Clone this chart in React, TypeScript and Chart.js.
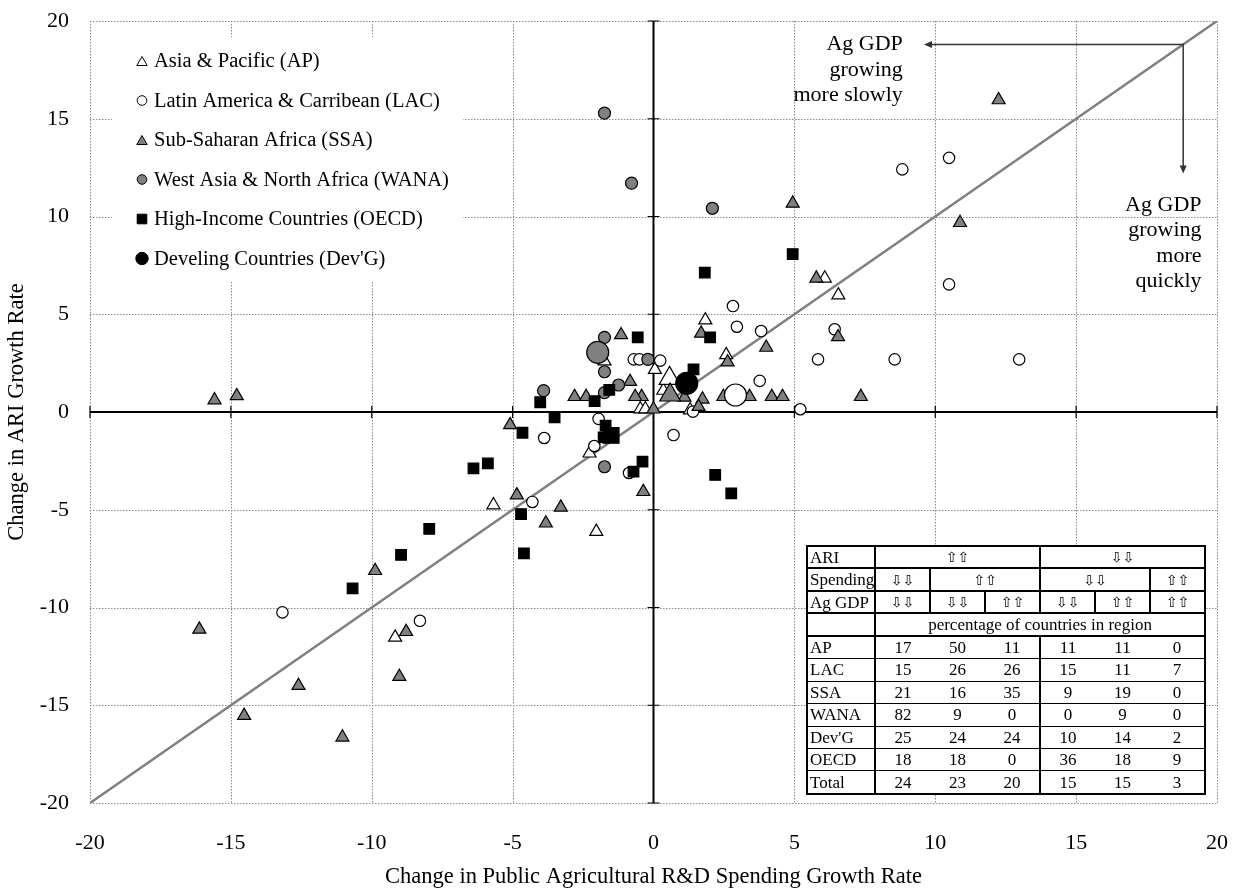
import React, { useEffect, useRef } from 'react';
import { Chart, registerables } from 'chart.js';

Chart.register(...registerables);

const FONT = "'Liberation Serif', 'Times New Roman', serif";
const GRAY = '#808080';

type Pt = [number, number];

// ---- data (x = change in R&D spending growth rate, y = change in ARI growth rate)
const apPoints: Pt[] = [
  [1.84, 4.7], [6.08, 6.84], [6.56, 5.98], [2.58, 2.92], [0.05, 2.17], [0.35, 1.1],
  [-0.47, 0.15], [-0.29, 0.15], [-1.74, 2.6], [1.3, 0.1], [-2.27, -2.11], [-5.68, -4.76],
  [-2.03, -6.12], [-9.17, -11.53],
];
const apAverage: Pt[] = [[0.57, 1.72]];

const lacPoints: Pt[] = [
  [8.83, 12.41], [10.49, 13.0], [10.49, 6.53], [2.82, 5.42], [2.96, 4.36], [3.82, 4.14],
  [6.43, 4.23], [5.84, 2.69], [8.56, 2.69], [12.98, 2.69], [3.77, 1.59], [5.21, 0.14],
  [1.4, 0.02], [0.24, 2.63], [-0.7, 2.69], [-0.5, 2.69], [-1.95, -0.35], [-3.88, -1.33],
  [0.71, -1.18], [-2.1, -1.74], [-0.87, -3.12], [-4.3, -4.6], [-13.17, -10.25], [-8.29, -10.68],
];
const lacAverage: Pt[] = [[2.91, 0.87]];

const ssaPoints: Pt[] = [
  [12.25, 15.96], [10.88, 9.68], [4.94, 10.67], [5.78, 6.84], [6.55, 3.84], [1.69, 4.02],
  [2.63, 2.55], [4.0, 3.3], [7.36, 0.78], [2.48, 0.78], [3.41, 0.78], [4.2, 0.78],
  [4.58, 0.78], [1.74, 0.65], [1.6, 0.27], [1.1, 0.75], [-0.42, 0.78], [0.0, 0.14],
  [-1.15, 3.94], [-2.8, 0.78], [-2.39, 0.78], [-0.83, 1.55], [-0.65, 0.78], [-5.09, -0.66],
  [-0.36, -4.08], [-4.85, -4.25], [-3.29, -4.88], [-3.82, -5.69], [-9.88, -8.12],
  [-16.12, -11.12], [-8.78, -11.24], [-9.02, -13.54], [-12.6, -14.0], [-14.53, -15.53],
  [-11.04, -16.64], [-15.58, 0.61], [-14.79, 0.82],
];
const ssaAverage: Pt[] = [[0.59, 0.87]];

const wanaPoints: Pt[] = [
  [-1.74, 15.29], [-0.78, 11.71], [2.09, 10.42], [-1.74, 3.82], [-1.74, 2.06], [-1.24, 1.38],
  [-1.74, 0.99], [-3.9, 1.09], [-0.2, 2.69], [-1.74, -2.8],
];
const wanaAverage: Pt[] = [[-1.98, 3.05]];

const oecdPoints: Pt[] = [
  [1.82, 7.13], [4.94, 8.08], [2.01, 3.82], [-0.56, 3.82], [1.42, 2.18], [-1.57, 1.13],
  [-2.09, 0.56], [-4.02, 0.5], [-3.51, -0.27], [-4.65, -1.06], [-1.7, -0.7], [-1.77, -1.3],
  [-0.71, -3.05], [-0.39, -2.54], [2.19, -3.22], [2.76, -4.16], [-6.39, -2.88], [-5.88, -2.63],
  [-4.7, -5.22], [-7.96, -5.98], [-8.96, -7.31], [-4.6, -7.23], [-10.68, -9.02],
];
const oecdAverage: Pt[] = [[-1.5, -1.2]];

const devgAverage: Pt[] = [[1.18, 1.47]];

const diagonal: Pt[] = [[-20, -20], [20, 20]];

const axisMin = -20;
const axisMax = 20;
const axisStep = 5;

// ---- annotation (in data units)
const arrowCorner = 18.8;
const arrowLeftEnd = 9.6;
const arrowDownEnd = 12.2;
const slowText = ['Ag GDP', 'growing', 'more slowly'];
const slowTextAnchor: Pt = [8.85, 18.8];
const fastText = ['Ag GDP', 'growing', 'more', 'quickly'];
const fastTextAnchor: Pt = [19.45, 10.6];

// ---- legend
const legendLabels = [
  'Asia & Pacific (AP)',
  'Latin America & Carribean (LAC)',
  'Sub-Saharan Africa (SSA)',
  'West Asia & North Africa (WANA)',
  'High-Income Countries (OECD)',
  "Develing Countries (Dev'G)",
];
const legendStyles = ['triangle', 'circle', 'triangle', 'circle', 'rect', 'circle'];
const legendFills = ['#ffffff', '#ffffff', GRAY, GRAY, '#000000', '#000000'];
const legendSizes = [6, 4.8, 6, 4.8, 4.8, 6.2];

// ---- table
const tableRegions = ['AP', 'LAC', 'SSA', 'WANA', "Dev'G", 'OECD', 'Total'];
const tableValues = [
  [17, 50, 11, 11, 11, 0],
  [15, 26, 26, 15, 11, 7],
  [21, 16, 35, 9, 19, 0],
  [82, 9, 0, 0, 9, 0],
  [25, 24, 24, 10, 14, 2],
  [18, 18, 0, 36, 18, 9],
  [24, 23, 20, 15, 15, 3],
];
const UP = '\u21E7\u21E7';
const DOWN = '\u21E9\u21E9';
const ariRow = [UP, DOWN];
const spendingRow = [DOWN, UP, DOWN, UP];
const spendingSpans = [1, 2, 2, 1];
const agGdpRow = [DOWN, DOWN, UP, DOWN, UP, UP];

const toXY = (pts: Pt[]) => pts.map(([x, y]) => ({ x, y }));

function drawMarker(ctx: CanvasRenderingContext2D, style: string, x: number, y: number, r: number, fill: string) {
  ctx.save();
  ctx.beginPath();
  if (style === 'triangle') {
    const cy = y + r / 4;
    ctx.moveTo(x, cy - r);
    ctx.lineTo(x + r * 0.866, cy + r / 2);
    ctx.lineTo(x - r * 0.866, cy + r / 2);
    ctx.closePath();
  } else if (style === 'rect') {
    ctx.rect(x - r, y - r, 2 * r, 2 * r);
  } else {
    ctx.arc(x, y, r, 0, Math.PI * 2);
  }
  ctx.fillStyle = fill;
  ctx.fill();
  ctx.lineWidth = 1;
  ctx.strokeStyle = '#000';
  ctx.stroke();
  ctx.restore();
}

const LEGEND_FONT = `20.5px ${FONT}`;
const LEGEND_X = 142;
const LEGEND_TEXT_X = 154;
const LEGEND_Y = 61;
const LEGEND_STEP = 39.5;

const backgroundPlugin = {
  id: 'bgGrid',
  beforeDatasetsDraw(chart: any) {
    const { ctx, scales } = chart;
    const xs = scales.x;
    const ys = scales.y;
    const left = xs.getPixelForValue(axisMin);
    const right = xs.getPixelForValue(axisMax);
    const top = ys.getPixelForValue(axisMax);
    const bottom = ys.getPixelForValue(axisMin);
    ctx.save();
    ctx.strokeStyle = '#8a8a8a';
    ctx.lineWidth = 1;
    ctx.setLineDash([1.5, 1.5]);
    for (let v = axisMin; v <= axisMax; v += axisStep) {
      if (v === 0) continue;
      const px = Math.round(xs.getPixelForValue(v)) + 0.5;
      ctx.beginPath();
      ctx.moveTo(px, top);
      ctx.lineTo(px, bottom);
      ctx.stroke();
      const py = Math.round(ys.getPixelForValue(v)) + 0.5;
      ctx.beginPath();
      ctx.moveTo(left, py);
      ctx.lineTo(right, py);
      ctx.stroke();
    }
    ctx.setLineDash([]);
    // legend background box (covers the gridlines behind the legend)
    ctx.font = LEGEND_FONT;
    const maxW = Math.max(...legendLabels.map((l) => ctx.measureText(l).width));
    ctx.fillStyle = '#ffffff';
    ctx.fillRect(112, 37, LEGEND_TEXT_X + maxW + 14 - 112, 245);
    // zero axes
    ctx.strokeStyle = '#000';
    ctx.lineWidth = 2;
    const x0 = xs.getPixelForValue(0);
    const y0 = ys.getPixelForValue(0);
    ctx.beginPath();
    ctx.moveTo(x0, top);
    ctx.lineTo(x0, bottom);
    ctx.moveTo(left, y0);
    ctx.lineTo(right, y0);
    ctx.stroke();
    ctx.lineWidth = 1.2;
    ctx.beginPath();
    for (let v = axisMin; v <= axisMax; v += axisStep) {
      const px = xs.getPixelForValue(v);
      ctx.moveTo(px, y0 - 6);
      ctx.lineTo(px, y0 + 6);
      const py = ys.getPixelForValue(v);
      ctx.moveTo(x0 - 6, py);
      ctx.lineTo(x0 + 6, py);
    }
    ctx.stroke();
    ctx.restore();
  },
  afterDatasetsDraw(chart: any) {
    const { ctx, scales } = chart;
    const xs = scales.x;
    const ys = scales.y;
    ctx.save();
    // legend
    ctx.font = LEGEND_FONT;
    ctx.fillStyle = '#000';
    ctx.textBaseline = 'middle';
    ctx.textAlign = 'left';
    legendLabels.forEach((label, i) => {
      const ly = LEGEND_Y + i * LEGEND_STEP;
      drawMarker(ctx, legendStyles[i], LEGEND_X, ly, legendSizes[i], legendFills[i]);
      ctx.fillStyle = '#000';
      ctx.fillText(label, LEGEND_TEXT_X, ly + 1);
    });
    // arrows
    const cx = xs.getPixelForValue(arrowCorner);
    const cy = ys.getPixelForValue(arrowCorner);
    const lx = xs.getPixelForValue(arrowLeftEnd);
    const dy = ys.getPixelForValue(arrowDownEnd);
    ctx.strokeStyle = '#333';
    ctx.fillStyle = '#333';
    ctx.lineWidth = 1.5;
    ctx.beginPath();
    ctx.moveTo(lx + 6, cy);
    ctx.lineTo(cx, cy);
    ctx.lineTo(cx, dy - 6);
    ctx.stroke();
    ctx.beginPath();
    ctx.moveTo(lx, cy);
    ctx.lineTo(lx + 8, cy - 3.5);
    ctx.lineTo(lx + 8, cy + 3.5);
    ctx.closePath();
    ctx.fill();
    ctx.beginPath();
    ctx.moveTo(cx, dy);
    ctx.lineTo(cx - 3.5, dy - 8);
    ctx.lineTo(cx + 3.5, dy - 8);
    ctx.closePath();
    ctx.fill();
    // annotation text
    ctx.fillStyle = '#000';
    ctx.font = `22px ${FONT}`;
    ctx.textAlign = 'right';
    const sx = xs.getPixelForValue(slowTextAnchor[0]);
    const sy = ys.getPixelForValue(slowTextAnchor[1]);
    slowText.forEach((t, i) => ctx.fillText(t, sx, sy + i * 25.5));
    const fx = xs.getPixelForValue(fastTextAnchor[0]);
    const fy = ys.getPixelForValue(fastTextAnchor[1]);
    fastText.forEach((t, i) => ctx.fillText(t, fx, fy + i * 25.5));
    ctx.restore();
  },
};

function pointSet(label: string, pts: Pt[], style: string, radius: number, fill: string, order: number) {
  return {
    label,
    data: toXY(pts),
    pointStyle: style,
    pointRadius: radius,
    pointHoverRadius: radius,
    pointBackgroundColor: fill,
    pointBorderColor: '#000',
    pointBorderWidth: 1.2,
    backgroundColor: fill,
    borderColor: '#000',
    showLine: false,
    order,
  };
}

const zeroPadding = (s: any) => {
  s.paddingTop = 0;
  s.paddingBottom = 0;
  s.paddingLeft = 0;
  s.paddingRight = 0;
};

export default function App() {
  const ref = useRef<HTMLCanvasElement>(null);
  useEffect(() => {
    document.body.style.margin = '0';
    const canvas = ref.current;
    if (!canvas) return;
    const chart = new Chart(canvas, {
      type: 'scatter',
      data: {
        datasets: [
          pointSet("Dev'G average", devgAverage, 'circle', 11, '#000000', 0),
          pointSet('OECD average', oecdAverage, 'rect', 11, '#000000', 1),
          pointSet('WANA average', wanaAverage, 'circle', 11, GRAY, 2),
          pointSet('SSA average', ssaAverage, 'triangle', 12, GRAY, 3),
          pointSet('LAC average', lacAverage, 'circle', 11, '#ffffff', 4),
          pointSet('AP average', apAverage, 'triangle', 12, '#ffffff', 5),
          pointSet('OECD', oecdPoints, 'rect', 7.5, '#000000', 6),
          pointSet('WANA', wanaPoints, 'circle', 6, GRAY, 7),
          pointSet('SSA', ssaPoints, 'triangle', 7.5, GRAY, 8),
          pointSet('LAC', lacPoints, 'circle', 5.7, '#ffffff', 9),
          pointSet('AP', apPoints, 'triangle', 7.5, '#ffffff', 10),
          {
            label: 'Diagonal',
            data: toXY(diagonal),
            showLine: true,
            pointRadius: 0,
            borderColor: GRAY,
            borderWidth: 2.5,
            order: 20,
          } as any,
        ],
      },
      options: {
        responsive: false,
        animation: false,
        devicePixelRatio: 1,
        layout: { padding: { top: 21, right: 26, left: 0, bottom: 0 } },
        plugins: { legend: { display: false }, tooltip: { enabled: false } },
        scales: {
          x: {
            type: 'linear',
            min: axisMin,
            max: axisMax,
            position: 'bottom',
            grid: { display: false, drawTicks: false },
            border: { display: false },
            ticks: { stepSize: axisStep, padding: 27, color: '#000', autoSkip: false, maxRotation: 0, font: { family: FONT, size: 22 } },
            title: {
              display: true,
              text: 'Change in Public Agricultural R&D Spending Growth Rate',
              color: '#000',
              font: { family: FONT, size: 22.5, lineHeight: 1.2 },
              padding: { top: 0, bottom: 1.5 },
            },
            afterFit: (s: any) => { s.height = 89; zeroPadding(s); },
          },
          y: {
            type: 'linear',
            min: axisMin,
            max: axisMax,
            position: 'left',
            grid: { display: false, drawTicks: false },
            border: { display: false },
            ticks: { stepSize: axisStep, padding: 21, color: '#000', autoSkip: false, font: { family: FONT, size: 22 } },
            title: {
              display: true,
              text: 'Change in ARI Growth Rate',
              color: '#000',
              font: { family: FONT, size: 22.5, lineHeight: 1.2 },
              padding: { top: 3.5, bottom: 0 },
            },
            afterFit: (s: any) => { s.width = 90; zeroPadding(s); },
          },
        },
      } as any,
      plugins: [backgroundPlugin],
    });
    return () => chart.destroy();
  }, []);

  const thick = '2px solid #000';
  const thin = '1px solid #000';
  const base: React.CSSProperties = {
    padding: 0,
    lineHeight: '1',
    textAlign: 'center',
    verticalAlign: 'middle',
    whiteSpace: 'nowrap',
    overflow: 'hidden',
  };
  const headH = 20.45;
  const dataH = 21.45;
  const arrowFont: React.CSSProperties = { fontFamily: "'DejaVu Sans', sans-serif", fontSize: 14 };
  const headCell: React.CSSProperties = { ...base, height: headH, border: thick, ...arrowFont };
  const labelCell: React.CSSProperties = { ...base, height: headH, textAlign: 'left', paddingLeft: 2, border: thick };

  return (
    <div style={{ position: 'relative', width: 1243, height: 892, overflow: 'hidden', background: '#fff' }}>
      <style>{'body{margin:0}'}</style>
      <canvas ref={ref} width={1243} height={892} style={{ display: 'block', width: 1243, height: 892 }} />
      <table
        style={{
          position: 'absolute',
          left: 806,
          top: 545,
          width: 398,
          borderCollapse: 'collapse',
          tableLayout: 'fixed',
          background: '#fff',
          fontFamily: FONT,
          fontSize: 17,
          color: '#000',
          border: thick,
          willChange: 'transform',
        }}
      >
        <colgroup>
          <col style={{ width: 68 }} />
          {[0, 1, 2, 3, 4, 5].map((i) => <col key={i} style={{ width: 55 }} />)}
        </colgroup>
        <tbody>
          <tr>
            <td style={labelCell}>ARI</td>
            {ariRow.map((a, i) => <td key={i} colSpan={3} style={headCell}>{a}</td>)}
          </tr>
          <tr>
            <td style={labelCell}>Spending</td>
            {spendingRow.map((a, i) => <td key={i} colSpan={spendingSpans[i]} style={headCell}>{a}</td>)}
          </tr>
          <tr>
            <td style={labelCell}>Ag GDP</td>
            {agGdpRow.map((a, i) => <td key={i} style={headCell}>{a}</td>)}
          </tr>
          <tr>
            <td style={labelCell}></td>
            <td colSpan={6} style={{ ...base, height: headH, border: thick }}>percentage of countries in region</td>
          </tr>
          {tableRegions.map((r, ri) => (
            <tr key={r}>
              <td style={{ ...base, height: dataH, textAlign: 'left', paddingLeft: 2, borderTop: thin, borderBottom: ri === tableRegions.length - 1 ? thick : thin, borderLeft: thick, borderRight: thick }}>{r}</td>
              {tableValues[ri].map((v, ci) => (
                <td
                  key={ci}
                  style={{
                    ...base,
                    height: dataH,
                    borderTop: thin,
                    borderBottom: ri === tableRegions.length - 1 ? thick : thin,
                    borderRight: ci === 2 || ci === 5 ? thick : 'none',
                  }}
                >
                  {v}
                </td>
              ))}
            </tr>
          ))}
        </tbody>
      </table>
    </div>
  );
}
